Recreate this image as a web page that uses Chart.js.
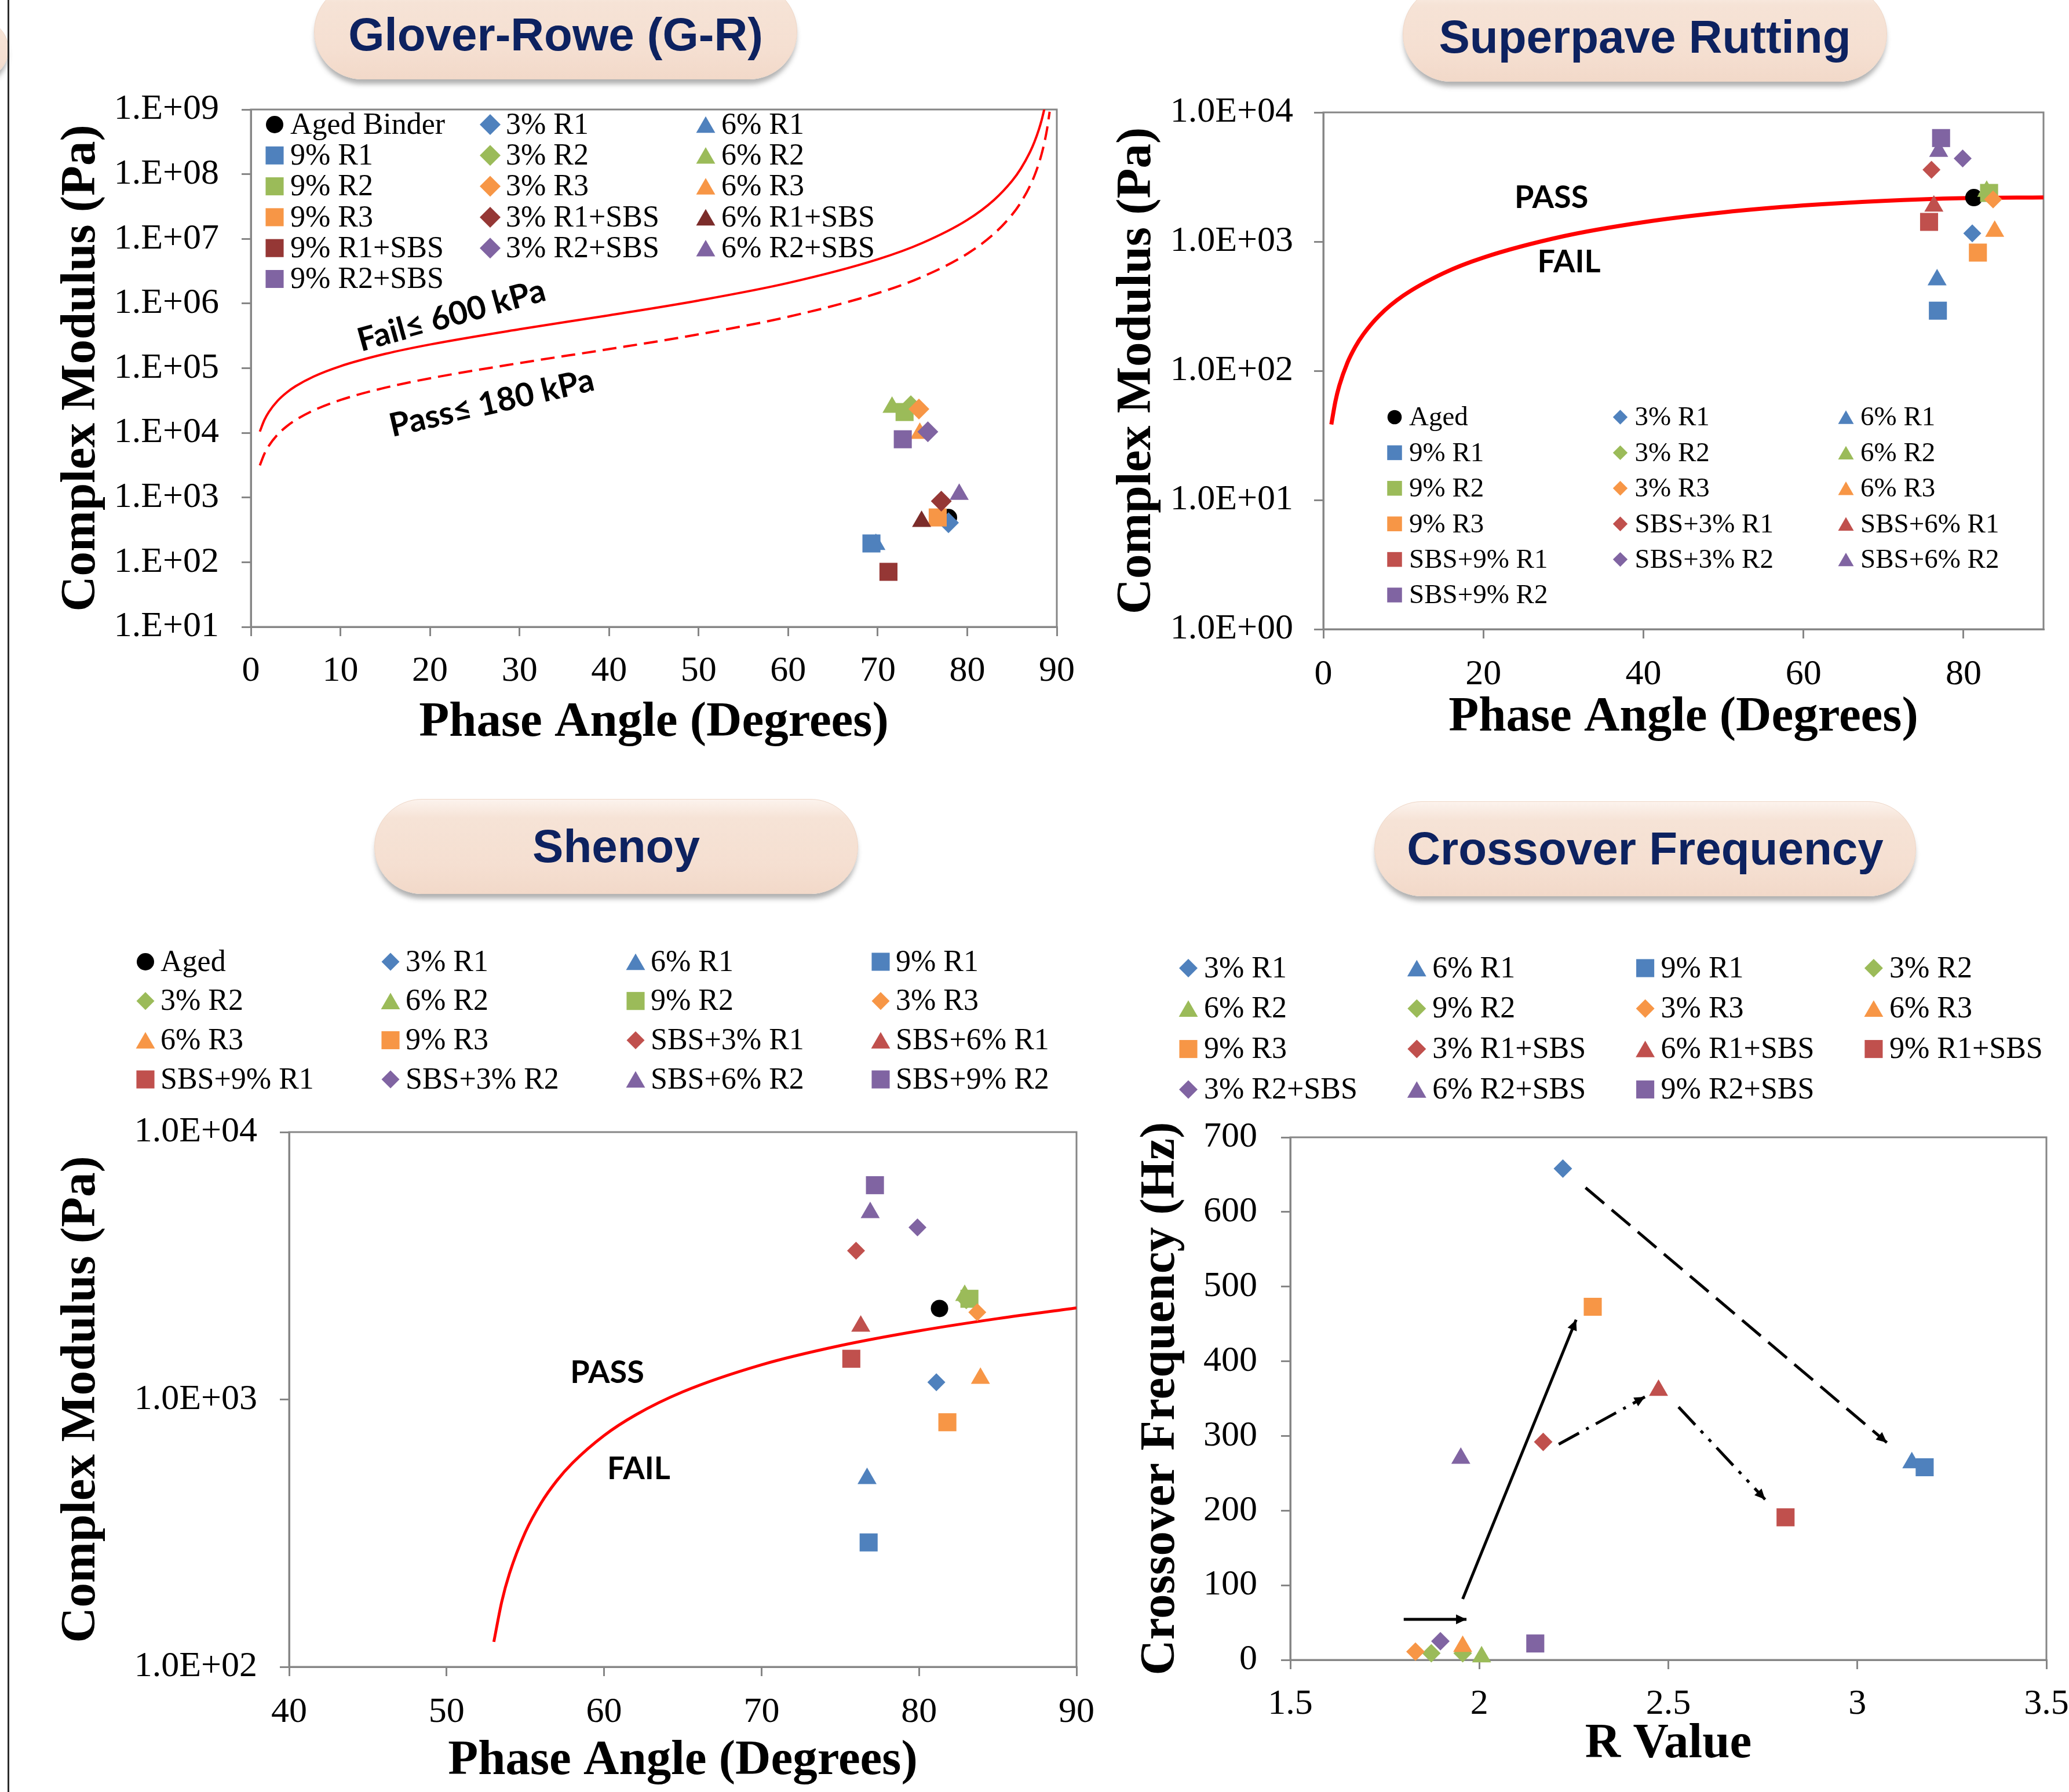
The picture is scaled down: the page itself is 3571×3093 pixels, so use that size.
<!DOCTYPE html>
<html>
<head>
<meta charset="utf-8">
<title>Binder rutting criteria</title>
<script src="https://cdn.jsdelivr.net/npm/chart.js@4.4.1/dist/chart.umd.min.js"></script>
<style>
  html, body { margin: 0; padding: 0; background: #ffffff; }
  body { position: relative; width: 3571px; height: 3093px; overflow: hidden; }
  canvas { position: absolute; }
  .pill {
    position: absolute; box-sizing: border-box; border-radius: 90px;
    background: linear-gradient(to bottom, #fcf3ed 0%, #f6e3d6 20%, #f5dfd1 70%, #f2d9c9 100%);
    border: 1px solid #eed6c6;
    box-shadow: 0 10px 9px -2px rgba(80, 80, 80, 0.45);
    color: #0d2260; font: bold 80px "Liberation Sans", Arial, sans-serif;
    display: flex; align-items: center; justify-content: center; white-space: nowrap;
  }
  .edge { position: absolute; left: 13px; top: 0; width: 3px; height: 3093px; background: #2b2b2b; }
</style>
</head>
<body>
<div class="pill" style="left:-300px;top:33px;width:315px;height:104px"></div>
<div class="edge"></div>
<div class="pill" style="left:542px;top:-29px;width:834px;height:166px;padding-top:12px">Glover-Rowe (G-R)</div>
<div class="pill" style="left:2421px;top:-25px;width:836px;height:166px;padding-top:12px">Superpave Rutting</div>
<div class="pill" style="left:646px;top:1379px;width:835px;height:164px">Shenoy</div>
<div class="pill" style="left:2372px;top:1383px;width:935px;height:164px">Crossover Frequency</div>

<canvas id="grChart" width="1880" height="1200" style="left:0;top:100px"></canvas>
<canvas id="spChart" width="1721" height="1200" style="left:1850px;top:100px"></canvas>
<canvas id="shChart" width="1940" height="1513" style="left:0;top:1580px"></canvas>
<canvas id="cfChart" width="1730" height="1513" style="left:1900px;top:1580px"></canvas>

<script>
// series (same order in every panel)
const seriesNames = ['Aged', '3% R1', '6% R1', '9% R1', '3% R2', '6% R2', '9% R2', '3% R3', '6% R3', '9% R3',
  'SBS+3% R1', 'SBS+6% R1', 'SBS+9% R1', 'SBS+3% R2', 'SBS+6% R2', 'SBS+9% R2'];
const grNames = ['Aged Binder', '3% R1', '6% R1', '9% R1', '3% R2', '6% R2', '9% R2', '3% R3', '6% R3', '9% R3',
  '3% R1+SBS', '6% R1+SBS', '9% R1+SBS', '3% R2+SBS', '6% R2+SBS', '9% R2+SBS'];
const seriesShapes = ['circle', 'rectRot', 'triangle', 'rect', 'rectRot', 'triangle', 'rect', 'rectRot', 'triangle', 'rect',
  'rectRot', 'triangle', 'rect', 'rectRot', 'triangle', 'rect'];
const seriesColors = ['#000000', '#4F81BD', '#4F81BD', '#4F81BD', '#9BBB59', '#9BBB59', '#9BBB59', '#F79646', '#F79646', '#F79646',
  '#C0504D', '#C0504D', '#C0504D', '#8064A2', '#8064A2', '#8064A2'];
const grColors = ['#000000', '#4F81BD', '#4F81BD', '#4F81BD', '#9BBB59', '#9BBB59', '#9BBB59', '#F79646', '#F79646', '#F79646',
  '#953735', '#7B2C2A', '#953735', '#8064A2', '#8064A2', '#8064A2'];

// Glover-Rowe panel
const grPhase   = [77.9, 77.9, 69.8, 69.3, 73.7, 71.6, 73.0, 74.6, 74.7, 76.7, 77.1, 74.9, 71.2, 75.6, 79.1, 72.8];
const grModulus = [490, 408, 188, 195, 26300, 24800, 21000, 23300, 9800, 492, 877, 426, 71, 10400, 1120, 7960];
const grFailAngle = [1, 1.5, 2, 3, 4, 5, 7, 10, 15, 20, 30, 40, 50, 60, 70, 75, 80, 83, 85, 86, 87, 87.5, 88, 88.3, 88.6];
const grFailModulus = [10475, 15717, 20965, 31488, 42058, 52694, 74224, 107428, 166441, 232400, 400000, 657220, 1112422,
  2078461, 4819800, 8651760, 19595400, 40098000, 78690000, 123000000, 218760000, 315000000, 492300000, 681000000, 1005000000];
const grPassAngle = [1, 1.5, 2, 3, 4, 5, 7, 10, 15, 20, 30, 40, 50, 60, 70, 75, 80, 83, 85, 86, 87, 87.5, 88, 88.3, 88.6, 88.9, 89.2];
const grPassModulus = [3143, 4715, 6290, 9446, 12617, 15808, 22267, 32228, 49932, 69720, 120000, 197166, 333727, 623538,
  1445940, 2595528, 5878620, 12029400, 23607000, 36900000, 65628000, 94500000, 147690000, 204300000, 301500000, 488000000, 923000000];
const grPhaseTicks = [0, 10, 20, 30, 40, 50, 60, 70, 80, 90];
const grModTicks = [1e1, 1e2, 1e3, 1e4, 1e5, 1e6, 1e7, 1e8, 1e9];
const grModLabels = ['1.E+01', '1.E+02', '1.E+03', '1.E+04', '1.E+05', '1.E+06', '1.E+07', '1.E+08', '1.E+09'];

// Superpave and Shenoy panels (same binders)
const spPhase   = [81.3, 81.1, 76.7, 76.8, 83.0, 82.9, 83.2, 83.7, 83.9, 81.8, 76.0, 76.3, 75.7, 79.9, 76.9, 77.2];
const spModulus = [2190, 1160, 506, 292, 2350, 2450, 2380, 2120, 1200, 822, 3600, 1880, 1420, 4400, 5000, 6330];
const spLimitAngle = [1, 1.5, 2, 3, 4, 5, 7, 10, 15, 20, 30, 40, 50, 60, 70, 80, 90];
const spLimitModulus = [38.4, 57.6, 76.8, 115.1, 153.5, 191.7, 268.1, 382.0, 569.4, 752.4, 1100, 1414, 1685, 1905, 2067, 2167, 2200];
const spPhaseTicks = [0, 20, 40, 60, 80];
const spModTicks = [1, 10, 100, 1000, 10000];
const spModLabels = ['1.0E+00', '1.0E+01', '1.0E+02', '1.0E+03', '1.0E+04'];
const shLimitAngle = [53, 53.5, 54, 55, 56, 57, 58, 60, 62, 65, 70, 75, 80, 85, 90];
const shLimitModulus = [124, 175, 224, 319, 410, 497, 579, 733, 875, 1068, 1348, 1590, 1806, 2007, 2200];
const shPhaseTicks = [40, 50, 60, 70, 80, 90];
const shModTicks = [100, 1000, 10000];
const shModLabels = ['1.0E+02', '1.0E+03', '1.0E+04'];

// crossover frequency panel
const cfNames = ['3% R1', '6% R1', '9% R1', '3% R2', '6% R2', '9% R2', '3% R3', '6% R3', '9% R3',
  '3% R1+SBS', '6% R1+SBS', '9% R1+SBS', '3% R2+SBS', '6% R2+SBS', '9% R2+SBS'];
const cfShapes = ['rectRot', 'triangle', 'rect', 'rectRot', 'triangle', 'rectRot', 'rectRot', 'triangle', 'rect',
  'rectRot', 'triangle', 'rect', 'rectRot', 'triangle', 'rect'];
const cfColors = ['#4F81BD', '#4F81BD', '#4F81BD', '#9BBB59', '#9BBB59', '#9BBB59', '#F79646', '#F79646', '#F79646',
  '#C0504D', '#C0504D', '#C0504D', '#8064A2', '#8064A2', '#8064A2'];
const cfR    = [2.221, 3.144, 3.178, 1.873, 2.006, 1.956, 1.831, 1.956, 2.300, 2.169, 2.474, 2.810, 1.897, 1.951, 2.148];
const cfFreq = [658, 264, 258, 9, 4, 9, 11, 18, 473, 292, 361, 191, 25, 270, 22];
const arrowR    = [[1.800, 1.966], [1.956, 2.256], [2.281, 3.078], [2.210, 2.438], [2.527, 2.756]];
const arrowFreq = [[54.4, 54.4], [81.6, 455.6], [632.5, 291.1], [288.9, 352.3], [338.7, 214.9]];
const arrowDash = [[], [], [42, 17], [40, 14, 5, 14], [42, 14, 6, 14, 6, 14]];
const cfRTicks = [1.5, 2, 2.5, 3, 3.5];
const cfRLabels = ['1.5', '2', '2.5', '3', '3.5'];
const cfFreqTicks = [0, 100, 200, 300, 400, 500, 600, 700];

const axisGray = '#868686';
const serif = '"Liberation Serif", "Times New Roman", serif';
const calibri = 'Lato, "Open Sans", sans-serif';

function drawMarker(ctx, shape, x, y, r, color) {
  ctx.fillStyle = color;
  ctx.beginPath();
  if (shape === 'circle') {
    ctx.arc(x, y, r, 0, Math.PI * 2);
  } else if (shape === 'rect') {
    const s = r * Math.SQRT1_2;
    ctx.rect(x - s, y - s, 2 * s, 2 * s);
  } else if (shape === 'rectRot') {
    ctx.moveTo(x - r, y); ctx.lineTo(x, y - r); ctx.lineTo(x + r, y); ctx.lineTo(x, y + r); ctx.closePath();
  } else {
    const yc = y + r * 0.25;
    ctx.moveTo(x, yc - r); ctx.lineTo(x + r * 0.866, yc + r * 0.5); ctx.lineTo(x - r * 0.866, yc + r * 0.5); ctx.closePath();
  }
  ctx.fill();
}

const framePlugin = {
  id: 'frame',
  beforeDatasetsDraw(chart) {
    const { ctx, chartArea: a } = chart;
    ctx.save();
    ctx.strokeStyle = axisGray;
    ctx.lineWidth = 3;
    ctx.strokeRect(a.left, a.top, a.right - a.left, a.bottom - a.top);
    ctx.restore();
  }
};

const gridLegend = {
  id: 'gridLegend',
  afterDatasetsDraw(chart, args, opts) {
    if (!opts || !opts.cols) return;
    const ctx = chart.ctx;
    const items = chart.data.datasets.filter(d => d.inLegend);
    ctx.save();
    ctx.font = opts.size + 'px ' + serif;
    ctx.textAlign = 'left';
    ctx.textBaseline = 'middle';
    items.forEach((d, i) => {
      const x = opts.x0 + (i % opts.cols) * opts.colW;
      const y = opts.y0 + Math.floor(i / opts.cols) * opts.rowH;
      drawMarker(ctx, d.pointStyle, x, y, d.pointRadius * (opts.scale || 1), d.backgroundColor);
      ctx.fillStyle = '#000';
      ctx.fillText(d.label, x + opts.gap, y + (opts.dy || 0));
    });
    ctx.restore();
  }
};

const notesPlugin = {
  id: 'notes',
  afterDatasetsDraw(chart, args, opts) {
    if (!opts || !opts.items) return;
    const { ctx, scales } = chart;
    opts.items.forEach(n => {
      ctx.save();
      ctx.translate(scales.x.getPixelForValue(n.x), scales.y.getPixelForValue(n.y));
      ctx.rotate((n.rot || 0) * Math.PI / 180);
      ctx.font = 'bold ' + opts.size + 'px ' + calibri;
      ctx.fillStyle = '#000';
      ctx.textAlign = 'center';
      ctx.textBaseline = 'middle';
      ctx.fillText(n.text, 0, 0);
      ctx.restore();
    });
  }
};

const arrowHeads = {
  id: 'arrowHeads',
  afterDatasetsDraw(chart) {
    const { ctx, scales: { x, y } } = chart;
    chart.data.datasets.forEach(d => {
      if (!d.arrow) return;
      const n = d.data.length;
      const x1 = x.getPixelForValue(d.data[n - 2].x), y1 = y.getPixelForValue(d.data[n - 2].y);
      const x2 = x.getPixelForValue(d.data[n - 1].x), y2 = y.getPixelForValue(d.data[n - 1].y);
      ctx.save();
      ctx.translate(x2, y2);
      ctx.rotate(Math.atan2(y2 - y1, x2 - x1));
      ctx.beginPath();
      ctx.moveTo(0, 0); ctx.lineTo(-18, -8.5); ctx.lineTo(-18, 8.5); ctx.closePath();
      ctx.fillStyle = '#000';
      ctx.fill();
      ctx.restore();
    });
  }
};

function markerSets(names, shapes, colors, xs, ys, sizes) {
  return names.map((name, i) => ({
    label: name,
    data: [{ x: xs[i], y: ys[i] }],
    pointStyle: shapes[i],
    pointRadius: sizes[shapes[i]],
    pointHoverRadius: sizes[shapes[i]],
    backgroundColor: colors[i],
    borderColor: colors[i],
    pointBorderWidth: 0,
    order: -i,
    clip: false,
    inLegend: true
  }));
}

function lineSet(xs, ys, color, width, dash) {
  return {
    label: '',
    data: xs.map((x, i) => ({ x: x, y: ys[i] })),
    showLine: true,
    pointRadius: 0,
    borderColor: color,
    borderWidth: width,
    borderDash: dash || [],
    cubicInterpolationMode: 'monotone',
    order: 1000,
    inLegend: false
  };
}

function axisOptions(a, dir, size) {
  return {
    type: a.type || 'linear',
    position: dir === 'x' ? 'bottom' : 'left',
    min: a.min,
    max: a.max,
    afterBuildTicks: s => { s.ticks = a.ticks.map(v => ({ value: v })); },
    afterFit: s => { if (dir === 'x') s.height = size; else s.width = size; },
    ticks: {
      autoSkip: false, maxRotation: 0, minRotation: 0, padding: a.pad, color: '#000',
      font: { family: serif, size: 62 },
      callback: v => { const i = a.ticks.indexOf(v); return i < 0 ? '' : a.labels[i]; }
    },
    grid: { drawOnChartArea: false, drawTicks: true, tickLength: 16, color: axisGray, lineWidth: 3 },
    border: { display: true, color: axisGray, width: 3 },
    title: {
      display: true, text: a.title, color: '#000',
      font: { family: serif, size: 85, weight: 'bold' },
      padding: dir === 'x' ? { top: 0, bottom: a.titlePad } : { top: a.titlePad, bottom: 0 }
    }
  };
}

function buildChart(id, box, xAxis, yAxis, datasets, pluginOpts) {
  const canvas = document.getElementById(id);
  return new Chart(canvas, {
    type: 'scatter',
    data: { datasets: datasets },
    options: {
      responsive: false, maintainAspectRatio: false, animation: false, devicePixelRatio: 1, events: [],
      layout: { padding: { left: 0, top: box.top, right: canvas.width - box.right, bottom: 0 } },
      scales: {
        x: axisOptions(xAxis, 'x', canvas.height - box.bottom),
        y: axisOptions(yAxis, 'y', box.left)
      },
      plugins: Object.assign({ legend: { display: false }, tooltip: { enabled: false } }, pluginOpts)
    },
    plugins: [framePlugin, gridLegend, notesPlugin, arrowHeads]
  });
}

const phaseTitle = 'Phase Angle (Degrees)';
const modTitle = 'Complex Modulus (Pa)';

// Glover-Rowe
buildChart('grChart', { left: 433, top: 89, right: 1824, bottom: 982 },
  { min: 0, max: 90, ticks: grPhaseTicks, labels: grPhaseTicks.map(String), pad: 24, title: phaseTitle, titlePad: 1 },
  { type: 'logarithmic', min: 1e1, max: 1e9, ticks: grModTicks, labels: grModLabels, pad: 39, title: modTitle, titlePad: 90 },
  markerSets(grNames, seriesShapes, grColors, grPhase, grModulus, { circle: 15, rect: 22, rectRot: 18, triangle: 19 })
    .concat([
      lineSet(grFailAngle, grFailModulus, '#FF0000', 4),
      lineSet(grPassAngle, grPassModulus, '#FF0000', 4, [24, 12])
    ]),
  {
    gridLegend: { cols: 3, x0: 474, y0: 115, colW: 372, rowH: 53.3, gap: 27, size: 52, dy: 2 },
    notes: { size: 56, items: [
      { text: 'Fail\u2264 600 kPa', x: 22.4, y: 646000, rot: -15.5 },
      { text: 'Pass\u2264 180 kPa', x: 26.9, y: 28600, rot: -13 }
    ] }
  });

// Superpave rutting
buildChart('spChart', { left: 434, top: 94, right: 1677, bottom: 986 },
  { min: 0, max: 90, ticks: spPhaseTicks, labels: spPhaseTicks.map(String), pad: 26, title: phaseTitle, titlePad: 10 },
  { type: 'logarithmic', min: 1, max: 1e4, ticks: spModTicks, labels: spModLabels, pad: 36, title: modTitle, titlePad: 62 },
  markerSets(seriesNames, seriesShapes, seriesColors, spPhase, spModulus, { circle: 15, rect: 22, rectRot: 15.5, triangle: 19 })
    .concat([lineSet(spLimitAngle, spLimitModulus, '#FF0000', 7)]),
  {
    gridLegend: { cols: 3, x0: 557, y0: 620, colW: 389.5, rowH: 61.4, gap: 25, size: 47, scale: 0.82, dy: 2 },
    notes: { size: 54, items: [
      { text: 'PASS', x: 28.5, y: 2170 },
      { text: 'FAIL', x: 30.7, y: 690 }
    ] }
  });

// Shenoy
buildChart('shChart', { left: 499, top: 374, right: 1858, bottom: 1297 },
  { min: 40, max: 90, ticks: shPhaseTicks, labels: shPhaseTicks.map(String), pad: 26, title: phaseTitle, titlePad: 2 },
  { type: 'logarithmic', min: 100, max: 1e4, ticks: shModTicks, labels: shModLabels, pad: 39, title: modTitle, titlePad: 90 },
  markerSets(seriesNames, seriesShapes, seriesColors, spPhase, spModulus, { circle: 15, rect: 22, rectRot: 15.5, triangle: 19 })
    .concat([lineSet(shLimitAngle, shLimitModulus, '#FF0000', 5)]),
  {
    gridLegend: { cols: 4, x0: 251, y0: 80, colW: 423, rowH: 67.7, gap: 26, size: 52, dy: 2 },
    notes: { size: 54, items: [
      { text: 'PASS', x: 60.2, y: 1259 },
      { text: 'FAIL', x: 62.2, y: 550 }
    ] }
  });

// Crossover frequency
const arrowSets = arrowR.map((rs, i) => Object.assign(lineSet(rs, arrowFreq[i], '#000000', 5, arrowDash[i]), {
  cubicInterpolationMode: 'default', order: 500, arrow: true
}));
buildChart('cfChart', { left: 327, top: 383, right: 1632, bottom: 1285 },
  { min: 1.5, max: 3.5, ticks: cfRTicks, labels: cfRLabels, pad: 24, title: 'R Value', titlePad: 31 },
  { min: 0, max: 700, ticks: cfFreqTicks, labels: cfFreqTicks.map(String), pad: 41, title: 'Crossover Frequency (Hz)', titlePad: 53 },
  markerSets(cfNames, cfShapes, cfColors, cfR, cfFreq, { circle: 15, rect: 22, rectRot: 16, triangle: 19 }).concat(arrowSets),
  {
    gridLegend: { cols: 4, x0: 151, y0: 91, colW: 394.3, rowH: 69.8, gap: 27, size: 52, dy: 2 }
  });
</script>
</body>
</html>
